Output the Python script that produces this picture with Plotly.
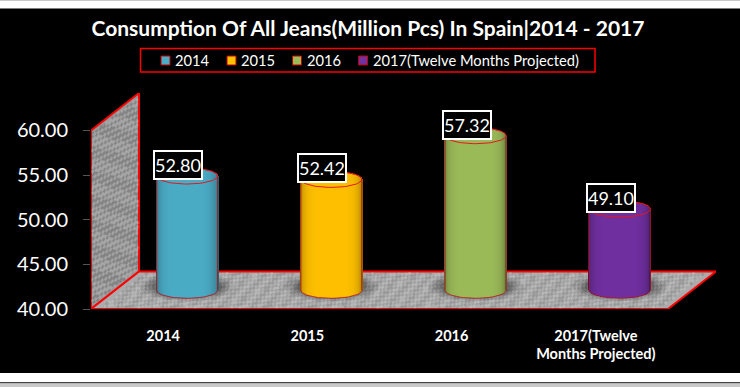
import numpy as np
import plotly.graph_objects as go

# ---- chart data ----
categories = ["2014", "2015", "2016", "2017(Twelve Months Projected)"]
tick_labels = ["2014", "2015", "2016", "2017(Twelve<br>Months Projected)"]
values = [52.80, 52.42, 57.32, 49.10]
y_ticks = [40, 45, 50, 55, 60]
colors = ["#4BACC6", "#FFC000", "#9BBB59", "#7030A0"]
title = "Consumption Of All Jeans(Million Pcs) In Spain|2014 - 2017"

# ---- 3D-look geometry, in axis units ----
W, H = 740, 387
L, R, T, B = 91, 24, 93, 78
DX, DY = 0.333, 4.2          # depth of the floor/wall
XMAX, YMIN, YMAX = 4 + DX, 40, 60 + DY
RX, RY = 0.2115, 0.9         # cylinder ellipse radii
FONT = "Lato, Carlito, Calibri, sans-serif"


def shade(hexcolor, f):
    r, g, b = (int(hexcolor[i:i + 2], 16) for i in (1, 3, 5))
    if f <= 1:
        r, g, b = r * f, g * f, b * f
    else:
        k = f - 1
        r, g, b = r + (255 - r) * k, g + (255 - g) * k, b + (255 - b) * k
    return f"rgb({int(r)},{int(g)},{int(b)})"


def lattice(n):
    """Even, repeatable point set in the unit square, used only for the stone texture."""
    k = np.arange(1, n + 1)
    return (k * 0.7548776662) % 1, (k * 0.5698402910) % 1


fig = go.Figure()

# wall and floor
fig.add_trace(go.Scatter(
    x=[0, 0, DX, DX, 0], y=[40, 60, 60 + DY, 40 + DY, 40], mode="lines", fill="toself",
    fillcolor="#989898", line=dict(color="#ff0000", width=2), showlegend=False, hoverinfo="skip"))
fig.add_trace(go.Scatter(
    x=[0, 4, 4 + DX, DX, 0], y=[40, 40, 40 + DY, 40 + DY, 40], mode="lines", fill="toself",
    fillcolor="#ababab", line=dict(color="#ff0000", width=2), showlegend=False, hoverinfo="skip"))

# stone texture
a, b = lattice(1100)
a, b = 0.02 + a * 0.96, 0.02 + b * 0.96
sx = a * DX
sy = 40 + a * DY + b * 20
fig.add_trace(go.Scatter(x=sx[::2], y=sy[::2], mode="markers", showlegend=False, hoverinfo="skip",
                         marker=dict(size=3, color="rgba(80,80,80,0.28)", line=dict(width=0))))
fig.add_trace(go.Scatter(x=sx[1::2], y=sy[1::2], mode="markers", showlegend=False, hoverinfo="skip",
                         marker=dict(size=3, color="rgba(205,205,205,0.28)", line=dict(width=0))))
a, b = lattice(2600)
a, b = 0.015 + a * 0.97, 0.05 + b * 0.9
fx = a * 4 + b * DX
fy = 40 + b * DY
fig.add_trace(go.Scatter(x=fx[::2], y=fy[::2], mode="markers", showlegend=False, hoverinfo="skip",
                         marker=dict(size=3.5, color="rgba(85,85,85,0.22)", line=dict(width=0))))
fig.add_trace(go.Scatter(x=fx[1::2], y=fy[1::2], mode="markers", showlegend=False, hoverinfo="skip",
                         marker=dict(size=3.5, color="rgba(215,215,215,0.28)", line=dict(width=0))))

t = np.linspace(0, 2 * np.pi, 73)
N = 61
u = np.linspace(-1, 1, N)
step = 2 * RX / (N - 1)
for i, (name, v, c) in enumerate(zip(categories, values, colors)):
    cx = i + 0.5 + DX / 2
    base_y = 40 + DY / 2
    top_y = v + DY / 2

    # soft floor shadow (overlaying axes, so it lies above the texture)
    for k, al in zip([1.55, 1.4, 1.27, 1.15], [0.09, 0.11, 0.14, 0.18]):
        fig.add_trace(go.Scatter(
            x=cx + RX * k * np.cos(t), y=base_y + 0.4 + RY * k * 1.15 * np.sin(t),
            mode="none", fill="toself",
            fillcolor=f"rgba(20,20,20,{al})", showlegend=False, hoverinfo="skip",
            xaxis="x2", yaxis="y2"))

    # the cylinder, as one bar trace of thin vertical strips (top overlaying axes)
    arc = RY * np.sqrt(1 - u ** 2)
    light = 0.6 + 0.4 * np.sqrt(1 - np.abs(u) ** 5)
    fig.add_trace(go.Bar(
        x=cx + RX * u, y=(top_y + arc) - (base_y - arc), base=base_y - arc,
        width=step * 1.2, marker=dict(color=[shade(c, f) for f in light], line=dict(width=0)),
        showlegend=False, hoverinfo="skip", xaxis="x3", yaxis="y3"))

    # outlines: silhouette and rim of the top face
    ox = np.concatenate([cx + RX * np.cos(t[:37]), [cx - RX], cx + RX * np.cos(t[36:]), [cx + RX]])
    oy = np.concatenate([top_y + RY * np.sin(t[:37]), [base_y],
                         base_y + RY * np.sin(t[36:]), [top_y]])
    fig.add_trace(go.Scatter(x=ox, y=oy, mode="lines", line=dict(color="#b5121b", width=0.8),
                             showlegend=False, hoverinfo="skip", xaxis="x3", yaxis="y3"))
    fig.add_trace(go.Scatter(x=cx + RX * np.cos(t), y=top_y + RY * np.sin(t), mode="lines",
                             line=dict(color="#e5171f", width=1), showlegend=False, hoverinfo="skip",
                             xaxis="x3", yaxis="y3"))

    # value label
    fig.add_annotation(x=cx, y=top_y, xref="x3", yref="y3", text=f"{v:.2f}", showarrow=False,
                       xshift=-9, yshift=11, bgcolor="#000000", bordercolor="#ffffff",
                       borderwidth=2, borderpad=0, width=46, height=26,
                       font=dict(family=FONT, size=18, color="#ffffff"))

# frame of the picture, in paper units
plot_w, plot_h = W - L - R, H - T - B


def py(px):
    return (H - B - px) / plot_h


def px_x(px):
    return (px - L) / plot_w


frame = [
    (0, 0, 740, 1, "#c9c9c9"),
    (0, 8.5, 740, 373, "#000000"),
    (0, 382, 740, 383.5, "#444444"),
    (0, 383.5, 740, 387, "#c9c9c9"),
]
shapes = [dict(type="rect", xref="paper", yref="paper", x0=px_x(a_), x1=px_x(c_), y0=py(b_), y1=py(d_),
               fillcolor=col, line=dict(width=0), layer="below") for a_, b_, c_, d_, col in frame]

# legend: red box, swatches and names
shapes.append(dict(type="rect", xref="paper", yref="paper", x0=px_x(140.5), x1=px_x(595), y0=py(48.5), y1=py(72),
                   line=dict(color="#ff0000", width=1.5), fillcolor="rgba(0,0,0,0)"))
legend_x = [161, 227, 292.5, 358.5]
for name, c, lx in zip(categories, colors, legend_x):
    shapes.append(dict(type="rect", xref="paper", yref="paper", x0=px_x(lx), x1=px_x(lx + 9), y0=py(56), y1=py(65),
                       fillcolor=c, line=dict(color="#c00000", width=1)))
    fig.add_annotation(xref="paper", yref="paper", x=px_x(lx + 13), y=py(60.5), text=name, showarrow=False,
                       xanchor="left", yanchor="middle", borderpad=0,
                       font=dict(family=FONT, size=14.7, color="#ffffff"))

fig.update_layout(
    width=W, height=H, autosize=False,
    margin=dict(l=L, r=R, t=T, b=B, pad=0),
    paper_bgcolor="#ffffff", plot_bgcolor="rgba(0,0,0,0)",
    barmode="overlay", bargap=0, shapes=shapes, showlegend=False,
    title=dict(text=f"<b>{title}</b>", x=368 / W, xanchor="center", y=1 - 29 / H, yanchor="middle",
               font=dict(family=FONT, size=21, color="#ffffff")),
    xaxis=dict(range=[0, XMAX], showgrid=False, zeroline=False, showline=False,
               tickmode="array", tickvals=[0.5, 1.5, 2.5, 3.5], ticktext=[f"<b>{s}</b>" for s in tick_labels],
               ticks="", tickangle=0, ticklabelstandoff=16,
               tickfont=dict(family=FONT, size=14.5, color="#ffffff")),
    yaxis=dict(range=[YMIN, YMAX], showgrid=False, zeroline=False, showline=False,
               tickmode="array", tickvals=y_ticks, ticktext=[f"{v:.2f}" for v in y_ticks],
               ticks="outside", ticklen=7, tickwidth=1, tickcolor="#555555", ticklabelstandoff=11,
               tickfont=dict(family=FONT, size=20, color="#ffffff")),
    xaxis2=dict(overlaying="x", visible=False, range=[0, XMAX]),
    yaxis2=dict(overlaying="y", visible=False, range=[YMIN, YMAX]),
    xaxis3=dict(overlaying="x", visible=False, range=[0, XMAX]),
    yaxis3=dict(overlaying="y", visible=False, range=[YMIN, YMAX]),
)

fig.write_html("out.html", post_script="document.body.style.margin='0';document.body.style.overflow='hidden';",
               config=dict(displayModeBar=False))
